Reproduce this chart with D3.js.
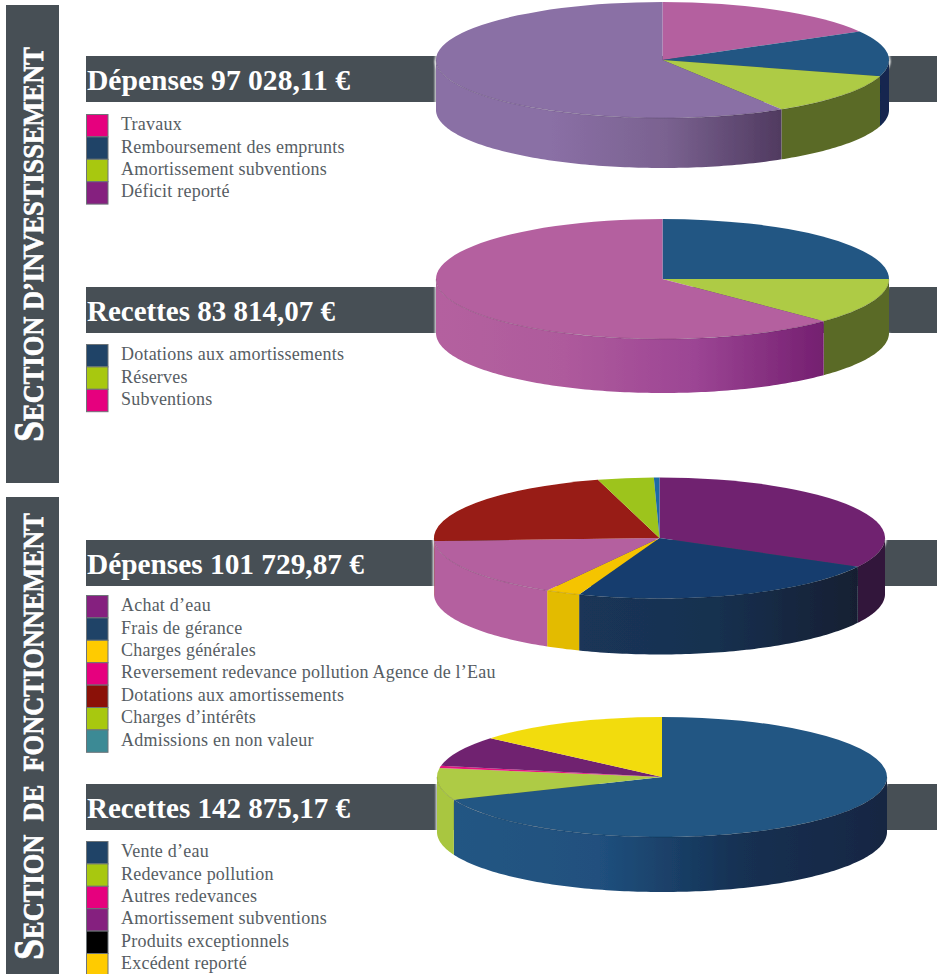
<!DOCTYPE html>
<html lang="fr">
<head>
<meta charset="utf-8">
<title>Sections d'investissement et de fonctionnement</title>
<script src="https://cdn.jsdelivr.net/npm/d3@7/dist/d3.min.js"></script>
<style>
    html, body { margin: 0; padding: 0; background: #fff; }
    svg { display: block; }
    text { font-family: "Liberation Serif", serif; }
    .section-label { font-weight: 700; fill: #fff; stroke: #fff; stroke-width: 0.7px; }
    .panel-title { font-weight: 700; fill: #fff; font-size: 29px; }
    .legend-label { fill: #565d63; font-size: 18px; letter-spacing: 0.22px; }
</style>
</head>
<body>
<svg id="chart" width="937" height="974"></svg>
<script>
// Shares in percent (12 o'clock, clockwise)
const depInvLabels = ['Travaux', 'Remboursement des emprunts', 'Amortissement subventions', 'Déficit reporté'];
const depInvValues = [16.8, 12.7, 11.7, 58.8];
const depInvLegend = ['#e6007e', '#1f4367', '#a8c80f', '#85207f'];
const depInvTop = ['#b4619f', '#225683', '#aecb45', '#8a6fa5'];
const depInvSide = [['#b4619f'], ['#12284f'], ['#5a6a25'], ['#8a6fa5', '#8a6fa5', '#7a6290', '#503a60']];

const recInvLabels = ['Dotations aux amortissements', 'Réserves', 'Subventions'];
const recInvValues = [25, 12.4, 62.6];
const recInvLegend = ['#1f4367', '#a8c80f', '#e6007e'];
const recInvTop = ['#225683', '#aecb45', '#b4619f'];
const recInvSide = [['#225683'], ['#5a6a25'], ['#b4619f', '#ae5a9c', '#9c4594', '#741f70']];

const depFoncLabels = ['Achat d’eau', 'Frais de gérance', 'Charges générales',
    'Reversement redevance pollution Agence de l’Eau', 'Dotations aux amortissements',
    'Charges d’intérêts', 'Admissions en non valeur'];
const depFoncValues = [32.9, 22.9, 2.5, 15.9, 21.4, 4.0, 0.4];
const depFoncLegend = ['#85207f', '#1f4367', '#ffcb00', '#e6007e', '#8b1108', '#a8c80f', '#3c8a95'];
const depFoncTop = ['#702370', '#143e6e', '#f5c400', '#b4619f', '#981a12', '#9dc41a', '#1f6aa5'];
const depFoncSide = [['#32123a'], ['#1a3558', '#18304f', '#121f32'], ['#e3bb00'], ['#b4619f'],
    ['#981a12'], ['#9dc41a'], ['#1f6aa5']];

const recFoncLabels = ['Vente d’eau', 'Redevance pollution', 'Autres redevances',
    'Amortissement subventions', 'Produits exceptionnels', 'Excédent reporté'];
const recFoncValues = [68.8, 8.6, 0.6, 8.2, 0, 13.8];
const recFoncLegend = ['#1f4367', '#a8c80f', '#e6007e', '#85207f', '#000000', '#ffcb00'];
const recFoncTop = ['#225683', '#aecb45', '#e5157f', '#702370', '#000000', '#f2dc10'];
const recFoncSide = [['#225683', '#20507e', '#143052', '#162642'], ['#a9c63f'], ['#e5157f'],
    ['#702370'], ['#000000'], ['#f2dc10']];

const panels = [
    { title: 'Dépenses 97 028,11 €', titleWidth: 263, barY: 56, legendY: 114, cx: 662.5, cy: 60, rx: 226.5, ry: 58, depth: 50,
      labels: depInvLabels, values: depInvValues, legend: depInvLegend, top: depInvTop, side: depInvSide },
    { title: 'Recettes 83 814,07 €', titleWidth: 248, barY: 287, legendY: 344, cx: 662.5, cy: 279, rx: 226.5, ry: 60, depth: 54,
      labels: recInvLabels, values: recInvValues, legend: recInvLegend, top: recInvTop, side: recInvSide },
    { title: 'Dépenses 101 729,87 €', titleWidth: 277, barY: 540, legendY: 595, cx: 659.5, cy: 538, rx: 225.5, ry: 60.5, depth: 56,
      labels: depFoncLabels, values: depFoncValues, legend: depFoncLegend, top: depFoncTop, side: depFoncSide },
    { title: 'Recettes 142 875,17 €', titleWidth: 263, barY: 784, legendY: 841, cx: 662, cy: 777, rx: 225, ry: 60, depth: 55,
      labels: recFoncLabels, values: recFoncValues, legend: recFoncLegend, top: recFoncTop, side: recFoncSide }
];

const sections = [
    { y: 5, height: 478, first: 'S', rest: 'ECTION D’INVESTISSEMENT', start: 442, width: 395 },
    { y: 497, height: 477, first: 'S', rest: 'ECTION  DE  FONCTIONNEMENT', start: 960, width: 447 }
];

const BAR_COLOR = '#474f55';
const ROW_STEP = 22.4;

const svg = d3.select('#chart');
const defs = svg.append('defs');
defs.append('filter').attr('id', 'soft')
    .attr('x', '-5%').attr('y', '-5%').attr('width', '110%').attr('height', '110%')
    .append('feGaussianBlur').attr('stdDeviation', 0.7);
defs.append('filter').attr('id', 'halo')
    .attr('x', '-5%').attr('y', '-10%').attr('width', '110%').attr('height', '120%')
    .append('feGaussianBlur').attr('stdDeviation', 1.2);

// Left-hand vertical section bands
sections.forEach((s) => {
    svg.append('rect').attr('x', 6).attr('y', s.y).attr('width', 53).attr('height', s.height).attr('fill', BAR_COLOR);
    const label = svg.append('text')
        .attr('class', 'section-label')
        .attr('xml:space', 'preserve');
    label.append('tspan').attr('font-size', 43).text(s.first);
    label.append('tspan').attr('font-size', 30).text(s.rest);
    // squeeze the glyphs along the baseline so the label spans the same length as the reference
    const squeeze = s.width / label.node().getComputedTextLength();
    label.attr('transform', `translate(43,${s.start}) rotate(-90) scale(${squeeze},1)`);
});

function drawPanel(p, i) {
    const g = svg.append('g');

    g.append('rect').attr('x', 86).attr('y', p.barY).attr('width', 851).attr('height', 46).attr('fill', BAR_COLOR);
    g.append('text').attr('class', 'panel-title')
        .attr('x', 87).attr('y', p.barY + 34)
        .attr('textLength', p.titleWidth).attr('lengthAdjust', 'spacingAndGlyphs')
        .text(p.title);

    // Legend
    const rows = g.append('g').selectAll('g').data(p.labels).join('g')
        .attr('transform', (d, j) => `translate(86,${p.legendY + j * ROW_STEP})`);
    rows.append('rect')
        .attr('x', 0.5).attr('y', 0.5).attr('width', 21.5).attr('height', ROW_STEP)
        .attr('fill', (d, j) => p.legend[j])
        .attr('stroke', '#6d7478').attr('stroke-width', 1);
    rows.append('text').attr('class', 'legend-label')
        .attr('x', 35).attr('y', 16.3)
        .text((d) => d);

    // Pie
    const pie = d3.pie().sort(null).value((d) => d);
    const arcs = pie(p.values);
    const px = (a) => p.cx + p.rx * Math.sin(a);
    const py = (a) => p.cy - p.ry * Math.cos(a);
    const line = d3.line();
    const FRONT_START = Math.PI / 2;
    const FRONT_END = Math.PI * 1.5;

    // White halo around the picture, as in the pasted image
    g.append('path')
        .attr('d', line(wallPoints(FRONT_START, FRONT_END, px, py, p.depth)))
        .attr('fill', 'none').attr('stroke', '#fff').attr('stroke-width', 2).attr('filter', 'url(#halo)');
    g.append('ellipse').attr('cx', p.cx).attr('cy', p.cy).attr('rx', p.rx).attr('ry', p.ry)
        .attr('fill', 'none').attr('stroke', '#fff').attr('stroke-width', 2).attr('filter', 'url(#halo)');

    const pieG = g.append('g').attr('filter', 'url(#soft)');

    // Side walls: only the front half of the rim is visible
    arcs.forEach((d, j) => {
        const a0 = Math.max(d.startAngle, FRONT_START);
        const a1 = Math.min(d.endAngle, FRONT_END);
        if (a1 <= a0) return;
        const stops = p.side[j];
        let fill = stops[0];
        if (stops.length > 1) {
            const id = `wall-${i}-${j}`;
            const grad = defs.append('linearGradient').attr('id', id);
            stops.forEach((c, k) => {
                grad.append('stop').attr('offset', k / (stops.length - 1)).attr('stop-color', c);
            });
            fill = `url(#${id})`;
        }
        pieG.append('path')
            .attr('d', line(wallPoints(a0, a1, px, py, p.depth)) + 'Z')
            .attr('fill', fill);
    });

    // Top face: d3.arc on a circle, squashed into the ellipse
    const arc = d3.arc().innerRadius(0).outerRadius(p.rx);
    pieG.append('g')
        .attr('transform', `translate(${p.cx},${p.cy}) scale(1,${p.ry / p.rx})`)
        .selectAll('path').data(arcs).join('path')
        .attr('d', arc)
        .attr('fill', (d, j) => p.top[j]);

    // Faint dark seam between top face and wall
    pieG.append('path')
        .attr('d', line(d3.range(FRONT_START, FRONT_END, 0.02).map((a) => [px(a), py(a)])))
        .attr('fill', 'none').attr('stroke', '#000').attr('stroke-opacity', 0.14).attr('stroke-width', 1);
}

function wallPoints(a0, a1, px, py, depth) {
    const steps = d3.range(a0, a1, 0.02).concat([a1]);
    const rim = steps.map((a) => [px(a), py(a)]);
    const bottom = steps.slice().reverse().map((a) => [px(a), py(a) + depth]);
    return rim.concat(bottom);
}

panels.forEach(drawPanel);
</script>
</body>
</html>
